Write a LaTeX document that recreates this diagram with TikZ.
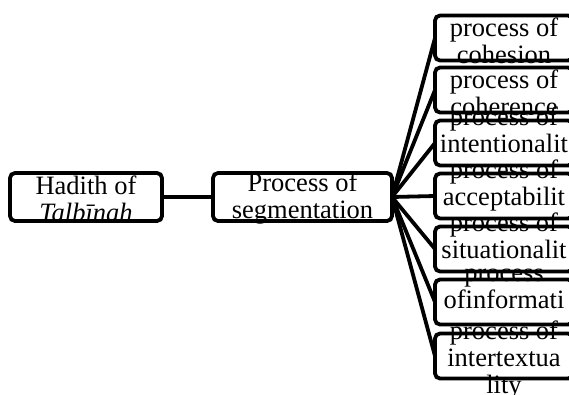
\documentclass[tikz,border=0pt]{standalone}
\usepackage{fontspec}
\setmainfont{Liberation Serif}
\begin{document}
\begin{tikzpicture}[x=1pt,y=-1pt,
  box/.style={draw=black, line width=3.8pt, rounded corners=5pt, fill=white,
    minimum width=#1, minimum height=45pt, inner sep=0pt, outer sep=0pt},
  lbl/.style={font=\fontsize{26.5}{27}\selectfont, align=center, inner sep=0pt},
  link/.style={line width=3.8pt}]
\useasboundingbox (0,0) rectangle (569,394);
\clip (0,0) rectangle (569,394);
% left boxes
\node[box=152pt, minimum height=48pt] (h) at (86,197) {};
\node[lbl] (ht) at ([yshift=-2pt]h.center) {Hadith of\\\textit{Talbīnah}};
\node[box=179pt, minimum height=48pt] (s) at (302.5,197) {};
\node[lbl] (st) at ([yshift=-2pt]s.center) {Process of\\segmentation};
% right boxes
\node[box=138pt] (r1) at (504,38) {};
\node[lbl] (t1) at ([yshift=-3pt]r1.center) {process of\\cohesion};
\node[box=138pt] (r2) at (504,90) {};
\node[lbl] (t2) at ([yshift=-3pt]r2.center) {process of\\coherence};
\node[box=138pt] (r3) at (504,143) {};
\node[lbl] (t3) at ([yshift=-4pt]r3.center) {process of\\intentionalit\\\strut};
\node[box=138pt] (r4) at (504,196) {};
\node[lbl] (t4) at ([yshift=-4pt]r4.center) {process of\\acceptabilit\\\strut};
\node[box=138pt] (r5) at (504,249) {};
\node[lbl] (t5) at ([yshift=-4pt]r5.center) {process of\\situationalit\\\strut};
\node[box=138pt] (r6) at (504,302) {};
\node[lbl] (t6) at ([yshift=-4pt]r6.center) {process\\ofinformati\\\strut};
\node[box=138pt] (r7) at (504,356) {};
\node[lbl] (t7) at ([yshift=-4pt]r7.center) {process of\\intertextua\\lity};
% connectors
\draw[link] (h.east) -- (s.west);
\foreach \i in {1,...,7} {\draw[link] (s.east) -- (r\i.west);}
\end{tikzpicture}
\end{document}
